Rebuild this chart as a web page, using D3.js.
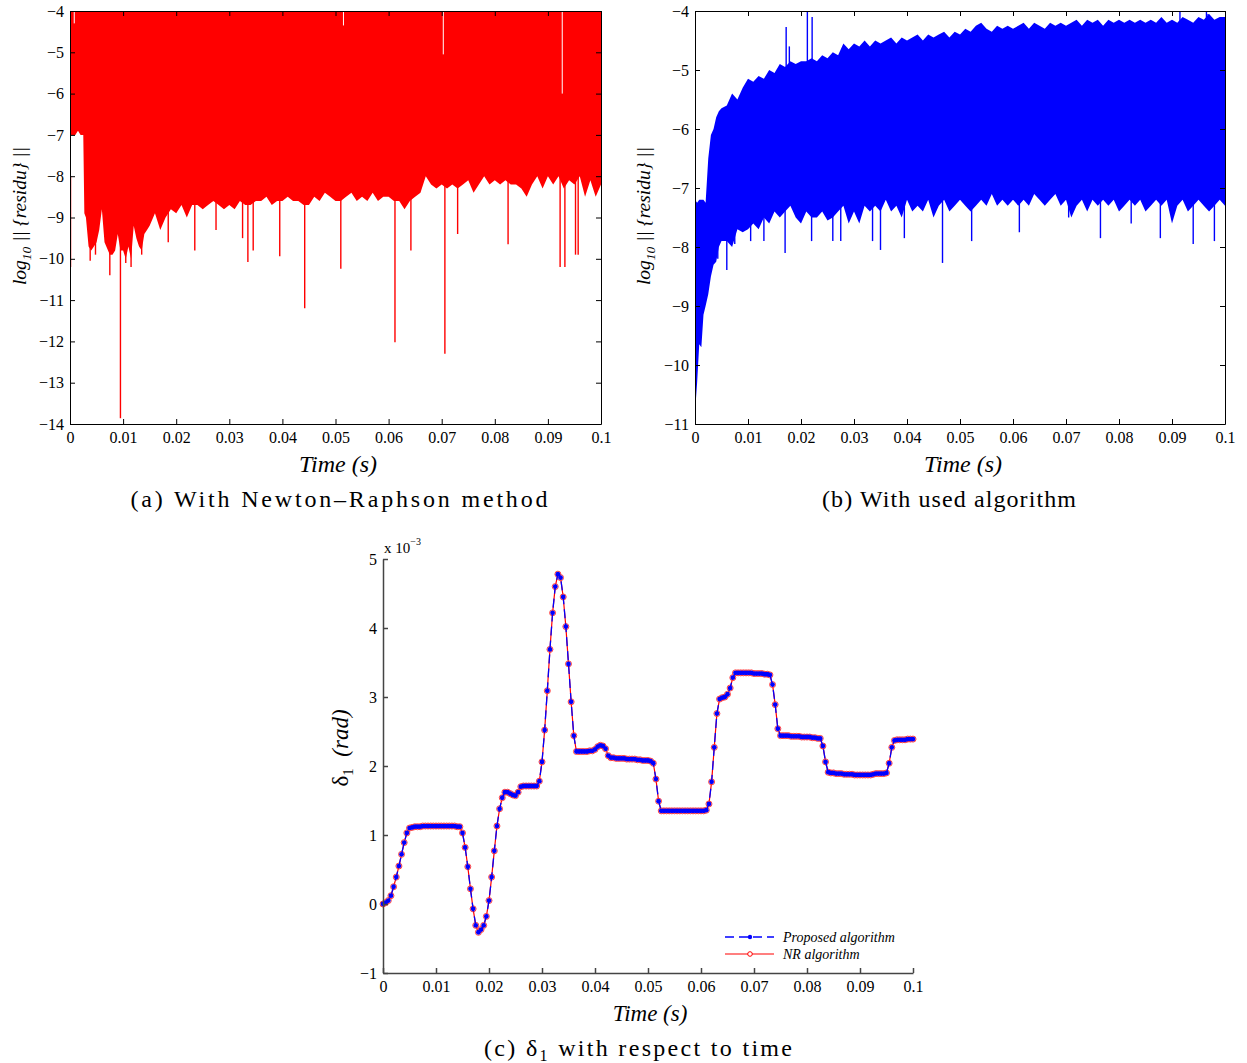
<!DOCTYPE html>
<html>
<head>
<meta charset="utf-8">
<script src="https://cdn.jsdelivr.net/npm/d3@7"></script>
<style>
  body { margin: 0; background: #fff; }
  svg text { font-family: "Liberation Serif", "DejaVu Serif", serif; }
</style>
</head>
<body>
<script>
// ---- tick values ----
var timeTicks = [0, 0.01, 0.02, 0.03, 0.04, 0.05, 0.06, 0.07, 0.08, 0.09, 0.1];
var residTicksA = [-14, -13, -12, -11, -10, -9, -8, -7, -6, -5, -4];
var residTicksB = [-11, -10, -9, -8, -7, -6, -5, -4];
var deltaTicks = [-1, 0, 1, 2, 3, 4, 5];

// ---- (a) residual, Newton-Raphson : band from lower envelope up to the -4 limit ----
var nrTime = [0, 0.0005, 0.001, 0.0015, 0.002, 0.0025, 0.0027, 0.003, 0.0035, 0.004,
  0.0045, 0.005, 0.0055, 0.006, 0.0065, 0.007, 0.0075, 0.008, 0.0085, 0.009,
  0.0095, 0.01, 0.0105, 0.011, 0.0115, 0.012, 0.0125, 0.013, 0.0135, 0.014,
  0.0145, 0.015,
  0.016, 0.017, 0.018, 0.019, 0.020, 0.021, 0.022, 0.023, 0.024, 0.025,
  0.026, 0.027, 0.028, 0.029, 0.030, 0.031, 0.032, 0.033, 0.034, 0.035,
  0.036, 0.037, 0.038, 0.039, 0.040, 0.041, 0.042, 0.043, 0.044, 0.045,
  0.046, 0.047, 0.048, 0.049, 0.050, 0.051, 0.052, 0.053, 0.054, 0.055,
  0.056, 0.057, 0.058, 0.059, 0.060, 0.061, 0.062, 0.063, 0.064, 0.065,
  0.066, 0.067, 0.068, 0.069, 0.070, 0.071, 0.072, 0.073, 0.074, 0.075,
  0.076, 0.077, 0.078, 0.079, 0.080, 0.081, 0.082, 0.083, 0.084, 0.085,
  0.086, 0.087, 0.088, 0.089, 0.090, 0.091, 0.092, 0.093, 0.094, 0.095,
  0.096, 0.097, 0.098, 0.099, 0.100];
var nrLow = [-7.0, -7.0, -7.0, -6.9, -7.0, -7.0, -8.9, -9.0, -9.7, -9.8,
  -9.7, -9.6, -9.3, -8.8, -9.6, -9.75, -9.9, -9.9, -9.8, -9.4,
  -9.8, -9.8, -10.0, -9.7, -10.0, -9.2, -9.5, -9.7, -9.8, -9.4,
  -9.3, -9.2,
  -8.9, -9.3, -9.0, -8.8, -8.9, -8.7, -9.0, -8.7, -8.7, -8.8,
  -8.7, -8.6, -8.7, -8.8, -8.7, -8.8, -8.6, -8.7, -8.7, -8.6,
  -8.6, -8.5, -8.7, -8.6, -8.6, -8.5, -8.6, -8.6, -8.7, -8.7,
  -8.5, -8.6, -8.4, -8.5, -8.6, -8.6, -8.5, -8.4, -8.6, -8.5,
  -8.6, -8.4, -8.6, -8.5, -8.5, -8.6, -8.6, -8.8, -8.6, -8.5,
  -8.4, -8.0, -8.2, -8.3, -8.2, -8.3, -8.2, -8.3, -8.2, -8.1,
  -8.4, -8.2, -8.0, -8.2, -8.1, -8.2, -8.1, -8.2, -8.2, -8.3,
  -8.5, -8.2, -8.0, -8.3, -8.0, -8.2, -8.0, -8.3, -8.1, -8.2,
  -8.0, -8.5, -8.1, -8.5, -8.2];
// deep single-step dips
var nrDipTime = [0.0001, 0.0038, 0.0048, 0.0075, 0.0095, 0.0105, 0.0115, 0.0135, 0.0185, 0.0235,
  0.0275, 0.0325, 0.0335, 0.0345, 0.0395, 0.0442, 0.051, 0.0612, 0.0642, 0.0706,
  0.073, 0.0825, 0.0923, 0.0932, 0.0952, 0.0957];
var nrDipValue = [-10.2, -10.05, -9.9, -10.4, -13.86, -10.1, -10.2, -9.9, -9.6, -9.8,
  -9.3, -9.5, -10.08, -9.8, -9.94, -11.2, -10.24, -12.02, -9.8, -12.3,
  -9.4, -9.65, -10.2, -10.2, -9.9, -9.9];
// steps where the maximum stays below the -4 limit
var nrGapTime = [0.0008, 0.0515, 0.0703, 0.0927];
var nrGapValue = [-4.3, -4.35, -5.05, -6.0];

// ---- (b) residual, used algorithm : band between lower and upper envelopes ----
var usedTime = [0, 0.0004, 0.0008, 0.0012, 0.0016, 0.002, 0.0025, 0.003, 0.0035, 0.004,
  0.0045, 0.005,
  0.006, 0.007, 0.008, 0.009, 0.010, 0.011, 0.012, 0.013, 0.014, 0.015,
  0.016, 0.017, 0.018, 0.019, 0.020, 0.021, 0.022, 0.023, 0.024, 0.025,
  0.026, 0.027, 0.028, 0.029, 0.030, 0.031, 0.032, 0.033, 0.034, 0.035,
  0.036, 0.037, 0.038, 0.039, 0.040, 0.041, 0.042, 0.043, 0.044, 0.045,
  0.046, 0.047, 0.048, 0.049, 0.050, 0.051, 0.052, 0.053, 0.054, 0.055,
  0.056, 0.057, 0.058, 0.059, 0.060, 0.061, 0.062, 0.063, 0.064, 0.065,
  0.066, 0.067, 0.068, 0.069, 0.070, 0.071, 0.072, 0.073, 0.074, 0.075,
  0.076, 0.077, 0.078, 0.079, 0.080, 0.081, 0.082, 0.083, 0.084, 0.085,
  0.086, 0.087, 0.088, 0.089, 0.090, 0.091, 0.092, 0.093, 0.094, 0.095,
  0.096, 0.097, 0.098, 0.099, 0.100];
var usedHigh = [-7.2, -7.25, -7.2, -7.2, -7.2, -7.25, -6.5, -6.1, -6.0, -5.8,
  -5.7, -5.65,
  -5.6, -5.4, -5.5, -5.3, -5.15, -5.2, -5.1, -5.15, -5.0, -5.05,
  -4.9, -4.95, -4.85, -4.9, -4.85, -4.85, -4.8, -4.85, -4.75, -4.8,
  -4.7, -4.75, -4.55, -4.65, -4.55, -4.6, -4.5, -4.6, -4.5, -4.55,
  -4.5, -4.45, -4.55, -4.45, -4.5, -4.45, -4.4, -4.5, -4.4, -4.45,
  -4.4, -4.35, -4.45, -4.35, -4.4, -4.3, -4.35, -4.25, -4.2, -4.3,
  -4.35, -4.25, -4.3, -4.25, -4.3, -4.25, -4.2, -4.3, -4.2, -4.25,
  -4.3, -4.2, -4.25, -4.2, -4.25, -4.2, -4.15, -4.25, -4.15, -4.2,
  -4.15, -4.25, -4.15, -4.2, -4.15, -4.2, -4.15, -4.2, -4.15, -4.2,
  -4.15, -4.2, -4.1, -4.2, -4.15, -4.2, -4.1, -4.15, -4.2, -4.1,
  -4.15, -4.05, -4.15, -4.1, -4.1];
var usedLow = [-10.8, -10.3, -9.65, -9.7, -9.15, -9.0, -8.8, -8.5, -8.3, -8.25,
  -8.0, -7.9,
  -7.9, -8.0, -7.7, -7.75, -7.7, -7.6, -7.7, -7.5, -7.6, -7.4,
  -7.5, -7.4, -7.3, -7.5, -7.6, -7.4, -7.5, -7.5, -7.4, -7.55,
  -7.5, -7.4, -7.3, -7.6, -7.4, -7.6, -7.3, -7.4, -7.3, -7.4,
  -7.2, -7.4, -7.3, -7.5, -7.2, -7.4, -7.3, -7.4, -7.2, -7.5,
  -7.3, -7.2, -7.4, -7.3, -7.2, -7.3, -7.4, -7.3, -7.2, -7.3,
  -7.1, -7.3, -7.2, -7.3, -7.2, -7.3, -7.2, -7.3, -7.1, -7.2,
  -7.3, -7.2, -7.1, -7.3, -7.2, -7.5, -7.3, -7.2, -7.4, -7.2,
  -7.3, -7.2, -7.3, -7.2, -7.4, -7.3, -7.2, -7.3, -7.2, -7.4,
  -7.3, -7.2, -7.3, -7.2, -7.6, -7.3, -7.2, -7.4, -7.3, -7.2,
  -7.3, -7.4, -7.3, -7.2, -7.3];
var usedDipTime = [0.0043, 0.006, 0.0075, 0.0105, 0.013, 0.017, 0.022, 0.026, 0.0275, 0.0335,
  0.035, 0.0395, 0.0467, 0.0522, 0.0612, 0.0705, 0.0765, 0.0823, 0.0878, 0.094, 0.098];
var usedDipValue = [-8.2, -8.39, -7.95, -7.9, -7.9, -8.1, -7.9, -7.9, -7.9, -7.9,
  -8.05, -7.85, -8.27, -7.9, -7.75, -7.5, -7.85, -7.6, -7.85, -7.95, -7.9];
var usedPeakTime = [0.0172, 0.0178, 0.0212, 0.0221, 0.0915, 0.0965, 0.0968];
var usedPeakValue = [-4.27, -4.6, -4.0, -4.1, -4.0, -4.0, -4.05];

// ---- (c) delta_1 (x 1e-3 rad), one value every 0.0005 s ----
var deltaStep = 0.0005;
var deltaProposed = [
  0.00, 0.02, 0.05, 0.12, 0.25, 0.39, 0.55, 0.72, 0.89, 1.03,
  1.10, 1.11, 1.12, 1.12, 1.12, 1.13, 1.13, 1.13, 1.13, 1.13,
  1.13, 1.13, 1.13, 1.13, 1.13, 1.13, 1.13, 1.13, 1.12, 1.12,
  1.03, 0.82, 0.54, 0.22, -0.07, -0.31, -0.41, -0.37, -0.31, -0.18,
  0.05, 0.39, 0.77, 1.13, 1.38, 1.54, 1.62, 1.62, 1.60, 1.58,
  1.57, 1.62, 1.70, 1.71, 1.71, 1.71, 1.71, 1.71, 1.71, 1.78,
  2.06, 2.52, 3.09, 3.69, 4.22, 4.60, 4.78, 4.73, 4.45, 4.02,
  3.48, 2.93, 2.44, 2.21, 2.21, 2.21, 2.21, 2.21, 2.22, 2.22,
  2.24, 2.28, 2.30, 2.29, 2.25, 2.15, 2.12, 2.12, 2.11, 2.11,
  2.11, 2.11, 2.10, 2.10, 2.10, 2.10, 2.09, 2.09, 2.08, 2.08,
  2.08, 2.07, 2.04, 1.81, 1.49, 1.35, 1.35, 1.35, 1.35, 1.35,
  1.35, 1.35, 1.35, 1.35, 1.35, 1.35, 1.35, 1.35, 1.35, 1.35,
  1.35, 1.35, 1.36, 1.45, 1.77, 2.27, 2.76, 2.97, 2.99, 3.00,
  3.04, 3.13, 3.28, 3.35, 3.35, 3.35, 3.35, 3.35, 3.35, 3.35,
  3.34, 3.34, 3.34, 3.34, 3.33, 3.33, 3.32, 3.18, 2.89, 2.54,
  2.44, 2.44, 2.44, 2.44, 2.43, 2.43, 2.43, 2.43, 2.42, 2.42,
  2.42, 2.42, 2.41, 2.41, 2.40, 2.40, 2.29, 2.06, 1.91, 1.90,
  1.90, 1.89, 1.89, 1.89, 1.88, 1.88, 1.88, 1.88, 1.87, 1.87,
  1.87, 1.87, 1.87, 1.87, 1.87, 1.88, 1.89, 1.89, 1.89, 1.89,
  1.90, 2.04, 2.27, 2.37, 2.38, 2.38, 2.38, 2.38, 2.39, 2.39,
  2.39];
// the NR curve lies on top of the proposed one
var deltaNR = deltaProposed.slice();

var fmtTime = function(d) { return d === 0 ? "0" : d3.format(".2~f")(d); };
var fmtInt = d3.format("d");

var svg = d3.select("body").append("svg")
  .attr("width", 1247)
  .attr("height", 1063);

function drawAxes(x, y, xTicks, yTicks, boxed, color, width) {
  var g = svg.append("g");
  var axes = [];
  axes.push(g.append("g")
    .attr("transform", "translate(0," + y.range()[0] + ")")
    .call(d3.axisBottom(x).tickValues(xTicks).tickFormat(fmtTime)
      .tickSizeInner(-5).tickSizeOuter(0).tickPadding(8)));
  axes.push(g.append("g")
    .attr("transform", "translate(" + x.range()[0] + ",0)")
    .call(d3.axisLeft(y).tickValues(yTicks).tickFormat(fmtInt)
      .tickSizeInner(-5).tickSizeOuter(0).tickPadding(6)));
  if (boxed) {
    axes.push(g.append("g")
      .attr("transform", "translate(0," + y.range()[1] + ")")
      .call(d3.axisTop(x).tickValues(xTicks).tickFormat(function() { return ""; })
        .tickSizeInner(-5).tickSizeOuter(0)));
    axes.push(g.append("g")
      .attr("transform", "translate(" + x.range()[1] + ",0)")
      .call(d3.axisRight(y).tickValues(yTicks).tickFormat(function() { return ""; })
        .tickSizeInner(-5).tickSizeOuter(0)));
  }
  axes.forEach(function(a) {
    a.attr("font-family", null).attr("font-size", 16);
    a.selectAll("path.domain, .tick line").attr("stroke", color).attr("stroke-width", width);
    a.selectAll(".tick text").attr("fill", "#000");
  });
}

function clipFor(id, x, y) {
  svg.append("clipPath").attr("id", id)
    .append("rect")
    .attr("x", x.range()[0]).attr("y", y.range()[1])
    .attr("width", x.range()[1] - x.range()[0])
    .attr("height", y.range()[0] - y.range()[1]);
  return "url(#" + id + ")";
}

function residLabel(x, y) {
  var t = svg.append("text")
    .attr("transform", "translate(" + x + "," + y + ") rotate(-90)")
    .attr("text-anchor", "middle")
    .attr("font-style", "italic")
    .attr("font-size", 19.5);
  t.append("tspan").text("log");
  t.append("tspan").attr("font-size", 13.5).attr("dy", 5).text("10");
  t.append("tspan").attr("dy", -5).text(" || {residu} ||");
}

function timeLabel(x, y, size) {
  svg.append("text")
    .attr("x", x).attr("y", y)
    .attr("text-anchor", "middle")
    .attr("font-style", "italic")
    .attr("font-size", size)
    .text("Time (s)");
}

function caption(x, y, len) {
  return svg.append("text")
    .attr("x", x).attr("y", y)
    .attr("text-anchor", "middle")
    .attr("font-size", 24)
    .attr("textLength", len)
    .attr("lengthAdjust", "spacing");
}

// ================= (a) =================
var xA = d3.scaleLinear().domain([0, 0.1]).range([70, 601]);
var yA = d3.scaleLinear().domain([-14, -4]).range([424, 11]);
var gA = svg.append("g").attr("clip-path", clipFor("clipA", xA, yA));

var areaA = d3.area()
  .x(function(d, i) { return xA(nrTime[i]); })
  .y0(function(d) { return yA(d); })
  .y1(yA(-4));
gA.append("path")
  .attr("d", areaA(nrLow))
  .attr("fill", "#ff0000");

gA.selectAll(".dipA")
  .data(nrDipValue)
  .enter().append("line")
  .attr("x1", function(d, i) { return xA(nrDipTime[i]); })
  .attr("x2", function(d, i) { return xA(nrDipTime[i]); })
  .attr("y1", yA(-8))
  .attr("y2", function(d) { return yA(d); })
  .attr("stroke", "#ff0000")
  .attr("stroke-width", 1.4);

gA.selectAll(".gapA")
  .data(nrGapValue)
  .enter().append("line")
  .attr("x1", function(d, i) { return xA(nrGapTime[i]); })
  .attr("x2", function(d, i) { return xA(nrGapTime[i]); })
  .attr("y1", yA(-4) + 1)
  .attr("y2", function(d) { return yA(d); })
  .attr("stroke", "#fff")
  .attr("stroke-width", 1);

drawAxes(xA, yA, timeTicks, residTicksA, true, "#000", 1);
residLabel(26, 216);
timeLabel(338, 472, 24);
caption(339, 507, 417).text("(a)  With Newton\u2013Raphson method");

// ================= (b) =================
var xB = d3.scaleLinear().domain([0, 0.1]).range([695, 1225]);
var yB = d3.scaleLinear().domain([-11, -4]).range([424, 11]);
var gB = svg.append("g").attr("clip-path", clipFor("clipB", xB, yB));

var areaB = d3.area()
  .x(function(d, i) { return xB(usedTime[i]); })
  .y0(function(d) { return yB(d); })
  .y1(function(d, i) { return yB(usedHigh[i]); });
gB.append("path")
  .attr("d", areaB(usedLow))
  .attr("fill", "#0000ff");

gB.selectAll(".dipB")
  .data(usedDipValue)
  .enter().append("line")
  .attr("x1", function(d, i) { return xB(usedDipTime[i]); })
  .attr("x2", function(d, i) { return xB(usedDipTime[i]); })
  .attr("y1", yB(-6.5))
  .attr("y2", function(d) { return yB(d); })
  .attr("stroke", "#0000ff")
  .attr("stroke-width", 1.4);

gB.selectAll(".peakB")
  .data(usedPeakValue)
  .enter().append("line")
  .attr("x1", function(d, i) { return xB(usedPeakTime[i]); })
  .attr("x2", function(d, i) { return xB(usedPeakTime[i]); })
  .attr("y1", yB(-5.2))
  .attr("y2", function(d) { return yB(d); })
  .attr("stroke", "#0000ff")
  .attr("stroke-width", 1.4);

drawAxes(xB, yB, timeTicks, residTicksB, true, "#000", 1);
residLabel(650, 216);
timeLabel(963, 472, 24);
caption(949, 507, 254).text("(b)  With used algorithm");

// ================= (c) =================
var xC = d3.scaleLinear().domain([0, 0.1]).range([383, 913]);
var yC = d3.scaleLinear().domain([-1, 5]).range([973, 559]);

var line = d3.line()
  .x(function(d, i) { return xC(i * deltaStep); })
  .y(function(d) { return yC(d); });

svg.append("path")
  .attr("d", line(deltaNR))
  .attr("fill", "none")
  .attr("stroke", "#ff0000")
  .attr("stroke-width", 1.2);

svg.selectAll(".nrDot")
  .data(deltaNR)
  .enter().append("circle")
  .attr("cx", function(d, i) { return xC(i * deltaStep); })
  .attr("cy", function(d) { return yC(d); })
  .attr("r", 3)
  .attr("fill", "none")
  .attr("stroke", "#ff4040")
  .attr("stroke-width", 1);

svg.append("path")
  .attr("d", line(deltaProposed))
  .attr("fill", "none")
  .attr("stroke", "#0000ff")
  .attr("stroke-width", 1.3)
  .attr("stroke-dasharray", "9,5");

svg.selectAll(".propDot")
  .data(deltaProposed)
  .enter().append("circle")
  .attr("cx", function(d, i) { return xC(i * deltaStep); })
  .attr("cy", function(d) { return yC(d); })
  .attr("r", 2.4)
  .attr("fill", "#0000ff");

drawAxes(xC, yC, timeTicks, deltaTicks, false, "#444", 1.5);

// exponent note
var expo = svg.append("text")
  .attr("x", 384).attr("y", 553)
  .attr("font-size", 15);
expo.append("tspan").text("x 10");
expo.append("tspan").attr("font-size", 10).attr("dy", -8).text("\u22123");

// y label
var yl = svg.append("text")
  .attr("transform", "translate(348,748) rotate(-90)")
  .attr("text-anchor", "middle")
  .attr("font-size", 23);
yl.append("tspan").text("\u03b4");
yl.append("tspan").attr("font-size", 15).attr("dy", 5).text("1");
yl.append("tspan").attr("dy", -5).attr("font-style", "italic").text("\u2002(rad)");

timeLabel(650, 1021, 23);

var capC = caption(638, 1056, 308);
capC.append("tspan").text("(c)  \u03b4");
capC.append("tspan").attr("font-size", 16).attr("dy", 5).text("1");
capC.append("tspan").attr("dy", -5).text(" with respect to time");

// legend
var legend = svg.append("g").attr("font-style", "italic").attr("font-size", 14);
legend.append("line")
  .attr("x1", 725).attr("x2", 774).attr("y1", 937).attr("y2", 937)
  .attr("stroke", "#0000ff").attr("stroke-width", 1.3).attr("stroke-dasharray", "9,5");
legend.append("circle").attr("cx", 750).attr("cy", 937).attr("r", 2.2).attr("fill", "#0000ff");
legend.append("text").attr("x", 783).attr("y", 942).text("Proposed algorithm");
legend.append("line")
  .attr("x1", 725).attr("x2", 774).attr("y1", 954).attr("y2", 954)
  .attr("stroke", "#ff0000").attr("stroke-width", 1.2);
legend.append("circle").attr("cx", 750).attr("cy", 954).attr("r", 2.3)
  .attr("fill", "#fff").attr("stroke", "#ff0000").attr("stroke-width", 1);
legend.append("text").attr("x", 783).attr("y", 959).text("NR algorithm");
</script>
</body>
</html>
